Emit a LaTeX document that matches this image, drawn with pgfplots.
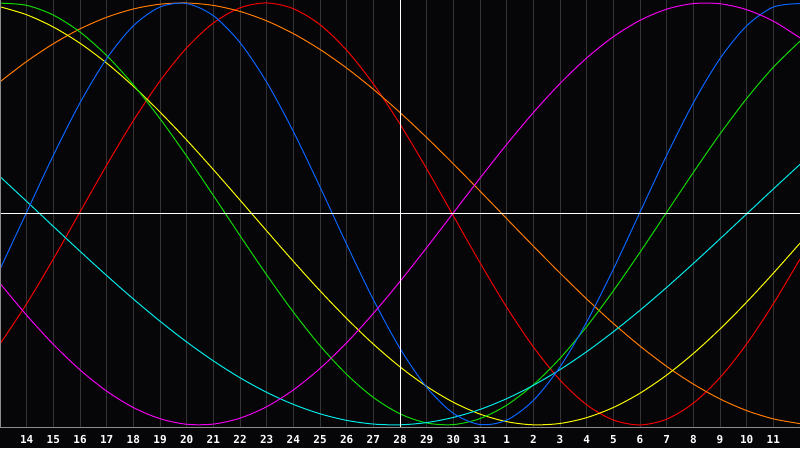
\documentclass[border=0pt]{standalone}
\usepackage{pgfplots}
\usepackage{pgfplotstable}
\pgfplotsset{compat=1.18}
\usepackage{fontspec}
\newfontfamily\lblfont{DejaVu Sans Mono}

\definecolor{bg}{HTML}{060608}
\definecolor{gridcol}{HTML}{333333}
\definecolor{bordercol}{HTML}{8C8C8C}
\definecolor{cblue}{HTML}{0A64FF}
\definecolor{cred}{HTML}{F00000}
\definecolor{cgreen}{HTML}{10D800}
\definecolor{cmag}{HTML}{F000F0}
\definecolor{cyel}{HTML}{F8F800}
\definecolor{corange}{HTML}{FF7A00}
\definecolor{ccyan}{HTML}{00E8E8}

% day index 0 = 13th, one row per day
\pgfplotstableread{
i  blue    red     green   magenta yellow  orange  cyan
0  -0.2619 -0.6163 0.9992  -0.3294 0.9820  0.6262  0.1769
1  0.0082  -0.4258 0.9887  -0.4803 0.9440  0.7227  0.0593
2  0.2777  -0.2138 0.9425  -0.6181 0.8859  0.8067  -0.0592
3  0.5265  0.0090  0.8622  -0.7390 0.8090  0.8770  -0.1769
4  0.7364  0.2313  0.7507  -0.8399 0.7148  0.9322  -0.2920
5  0.8916  0.4420  0.6122  -0.9177 0.6054  0.9714  -0.4031
6  0.9807  0.6304  0.4514  -0.9706 0.4830  0.9941  -0.5085
7  0.9971  0.7874  0.2744  -0.9970 0.3504  0.9998  -0.6068
8  0.9395  0.9048  0.0875  -0.9962 0.2103  0.9883  -0.6965
9  0.8122  0.9769  -0.1026 -0.9681 0.0657  0.9599  -0.7766
10 0.6246  1.0000  -0.2890 -0.9138 -0.0803 0.9151  -0.8456
11 0.3909  0.9729  -0.4650 -0.8344 -0.2246 0.8547  -0.9028
12 0.1281  0.8970  -0.6241 -0.7324 -0.3641 0.7796  -0.9473
13 -0.1443 0.7759  -0.7607 -0.6103 -0.4958 0.6913  -0.9786
14 -0.4059 0.6163  -0.8698 -0.4716 -0.6170 0.5910  -0.9960
15 -0.6374 0.4258  -0.9474 -0.3200 -0.7249 0.4806  -0.9996
16 -0.8217 0.2138  -0.9909 -0.1597 -0.8175 0.3620  -0.9890
17 -0.9450 -0.0090 -0.9985 0.0050  -0.8927 0.2373  -0.9646
18 -0.9982 -0.2313 -0.9700 0.1695  -0.9488 0.1084  -0.9267
19 -0.9774 -0.4420 -0.9064 0.3294  -0.9847 -0.0223 -0.8757
20 -0.8841 -0.6304 -0.8101 0.4803  -0.9996 -0.1526 -0.8125
21 -0.7252 -0.7874 -0.6845 0.6181  -0.9932 -0.2802 -0.7380
22 -0.5125 -0.9048 -0.5342 0.7390  -0.9656 -0.4031 -0.6529
23 -0.2619 -0.9769 -0.3646 0.8399  -0.9175 -0.5192 -0.5585
24 0.0082  -1.0000 -0.1818 0.9177  -0.8497 -0.6262 -0.4567
25 0.2777  -0.9729 0.0076  0.9706  -0.7639 -0.7227 -0.3482
26 0.5265  -0.8970 0.1967  0.9970  -0.6619 -0.8067 -0.2349
27 0.7364  -0.7759 0.3787  0.9962  -0.5456 -0.8770 -0.1183
28 0.8916  -0.6163 0.5471  0.9681  -0.4178 -0.9322 0.0000
29 0.9807  -0.4258 0.6955  0.9138  -0.2811 -0.9714 0.1183
30 0.9971  -0.2138 0.8190  0.8344  -0.1384 -0.9941 0.2349
}\bio

\begin{document}
\begin{tikzpicture}
\fill[bg] (0pt,-21pt) rectangle (800pt,427pt);
\begin{axis}[
    scale only axis,
    width=800pt, height=427pt,
    xmin=0, xmax=30, ymin=-1.01, ymax=1.014,
    axis line style={draw=none},
    ytick=\empty,
    xtick={1,...,29},
    xticklabels={14,15,16,17,18,19,20,21,22,23,24,25,26,27,28,29,30,31,1,2,3,4,5,6,7,8,9,10,11},
    major tick length=0pt,
    xmajorgrids,
    grid style={gridcol, line width=1pt},
    xticklabel style={font=\lblfont\bfseries\fontsize{11}{11}\selectfont, text=white, anchor=base, yshift=-16.3pt},
    every axis plot/.append style={line width=1pt, no markers},
    ]
\addplot[cred, smooth] table[x=i, y=red] {\bio};
\addplot[corange, smooth] table[x=i, y=orange] {\bio};
\addplot[cyel, smooth] table[x=i, y=yellow] {\bio};
\addplot[cgreen, smooth] table[x=i, y=green] {\bio};
\addplot[ccyan, smooth] table[x=i, y=cyan] {\bio};
\addplot[cblue, smooth] table[x=i, y=blue] {\bio};
\addplot[cmag, smooth] table[x=i, y=magenta] {\bio};
% today marker and zero line
\addplot[white] coordinates {(15,-1.1) (15,1.1)};
\addplot[white] coordinates {(0,0) (30,0)};
\draw[bordercol, line width=1pt] (rel axis cs:0,1) -- (rel axis cs:0,0) -- (rel axis cs:1,0);
\end{axis}
\pgfresetboundingbox
\useasboundingbox (0pt,-21pt) rectangle (800pt,427pt);
\end{tikzpicture}
\end{document}
